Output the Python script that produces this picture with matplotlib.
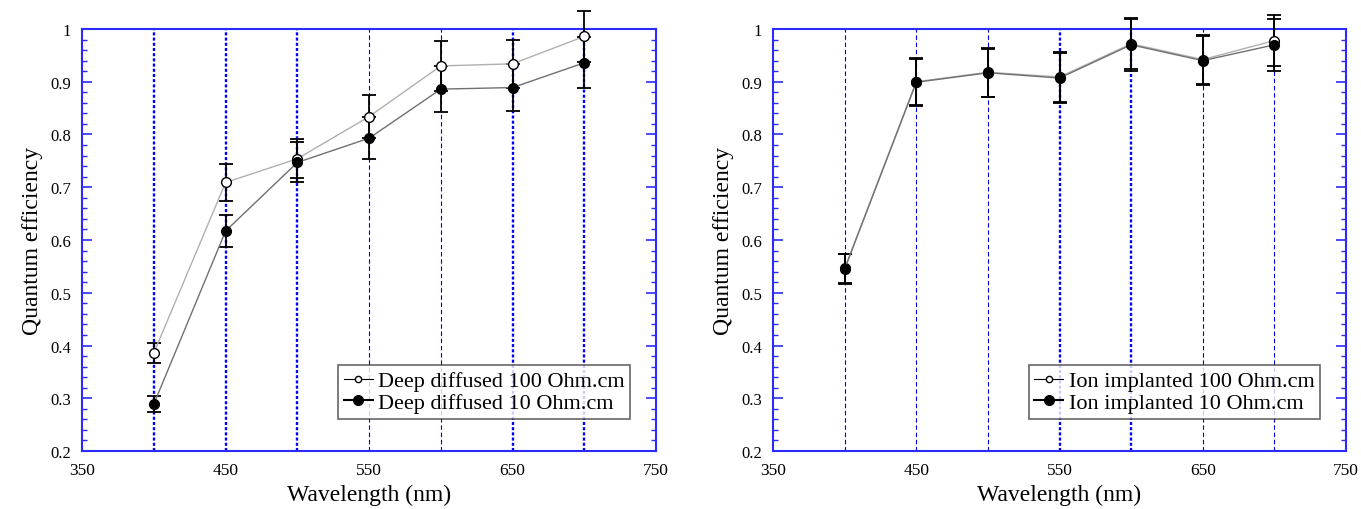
import matplotlib
matplotlib.use("Agg")
import matplotlib.pyplot as plt
from matplotlib.ticker import MultipleLocator, FormatStrFormatter, FixedLocator

plt.rcParams['font.family'] = ['Liberation Serif', 'DejaVu Serif']

wavelength = [400, 450, 500, 550, 600, 650, 700]
x_ticks = [350, 450, 550, 650, 750]

# left panel: deep diffused
dd100 = [0.386, 0.709, 0.754, 0.834, 0.930, 0.934, 0.986]
dd100_err = [0.019, 0.036, 0.037, 0.041, 0.047, 0.046, 0.048]
dd10 = [0.289, 0.617, 0.747, 0.793, 0.886, 0.889, 0.936]
dd10_err = [0.015, 0.030, 0.038, 0.040, 0.043, 0.044, 0.048]

# right panel: ion implanted
ii100 = [0.546, 0.900, 0.918, 0.909, 0.972, 0.942, 0.978]
ii100_err = [0.027, 0.045, 0.046, 0.047, 0.048, 0.047, 0.048]
ii10 = [0.545, 0.899, 0.917, 0.907, 0.970, 0.940, 0.970]
ii10_err = [0.028, 0.045, 0.046, 0.047, 0.049, 0.047, 0.049]

# which vertical guides look heavy in the original
left_heavy = [True, True, True, False, False, True, True]
right_heavy = [False, False, False, True, True, False, False]

blue = '#2b2bff'

fig = plt.figure(figsize=(13.61, 5.10), dpi=100)
ax1 = fig.add_axes([0.0603, 0.1137, 0.4218, 0.8275])
ax2 = fig.add_axes([0.568, 0.1137, 0.4210, 0.8275])


def draw_panel(ax, y_open, e_open, y_fill, e_fill, labels, heavy):
    for x, h in zip(wavelength, heavy):
        if h:
            ax.axvline(x, color='#0000ff', lw=1.7, ls=(0, (1.3, 0.9)), zorder=1)
        else:
            ax.axvline(x, color='#0000dd', lw=0.8, ls=(0, (4, 2.5)), zorder=1)
    ax.errorbar(wavelength, y_open, yerr=e_open, fmt='none', ecolor='black',
                elinewidth=1.3, capsize=5, capthick=1.3, zorder=3)
    ax.errorbar(wavelength, y_fill, yerr=e_fill, fmt='none', ecolor='black',
                elinewidth=1.3, capsize=5, capthick=1.3, zorder=3)
    ax.plot(wavelength, y_open, color='#b0b0b0', lw=1, marker='o', ms=7,
            mfc='white', mec='black', mew=1, zorder=4, label=labels[0])
    ax.plot(wavelength, y_fill, color='#707070', lw=1, marker='o', ms=7,
            mfc='black', mec='black', zorder=5, label=labels[1])

    ax.set_xlim(350, 750)
    ax.set_ylim(0.2, 1.0)
    ax.xaxis.set_major_locator(FixedLocator(x_ticks))
    ax.yaxis.set_major_locator(MultipleLocator(0.1))
    ax.yaxis.set_minor_locator(MultipleLocator(0.02))
    ax.yaxis.set_major_formatter(FormatStrFormatter('%g'))
    ax.tick_params(axis='y', which='major', direction='in', length=7, width=1.2,
                   color=blue, left=True, right=True, labelsize=12, pad=8)
    ax.tick_params(axis='y', which='minor', direction='in', length=3.5, width=1,
                   color=blue, left=True, right=True)
    ax.tick_params(axis='x', which='major', direction='in', length=0,
                   labelsize=12.5, pad=8)
    for s in ax.spines.values():
        s.set_color(blue)
        s.set_linewidth(1.5)
    ax.set_xlabel('Wavelength (nm)', fontsize=17, labelpad=4)
    ax.set_ylabel('Quantum efficiency', fontsize=17, labelpad=5)

    # legend markers: small open circle and filled circle
    h1 = plt.Line2D([], [], color='black', lw=0.8, marker='o', ms=4.5, mfc='white', mec='black')
    h2 = plt.Line2D([], [], color='black', lw=1.5, marker='o', ms=7, mfc='black', mec='black')
    leg = ax.legend([h1, h2], labels, loc='lower right', bbox_to_anchor=(0.955, 0.077),
                    fontsize=16, frameon=True, fancybox=False, handlelength=1.3,
                    handletextpad=0.25, borderpad=0.25, labelspacing=0.05,
                    borderaxespad=0)
    leg.get_frame().set_edgecolor('#404040')
    leg.get_frame().set_linewidth(1.2)
    leg.set_zorder(10)


draw_panel(ax1, dd100, dd100_err, dd10, dd10_err,
           ['Deep diffused 100 Ohm.cm', 'Deep diffused 10 Ohm.cm'], left_heavy)
draw_panel(ax2, ii100, ii100_err, ii10, ii10_err,
           ['Ion implanted 100 Ohm.cm', 'Ion implanted 10 Ohm.cm'], right_heavy)

for ax in (ax1, ax2):
    for line in ax.lines:
        line.set_clip_on(False)
    for coll in ax.collections:
        coll.set_clip_on(False)

fig.savefig('out.png', dpi=100)
